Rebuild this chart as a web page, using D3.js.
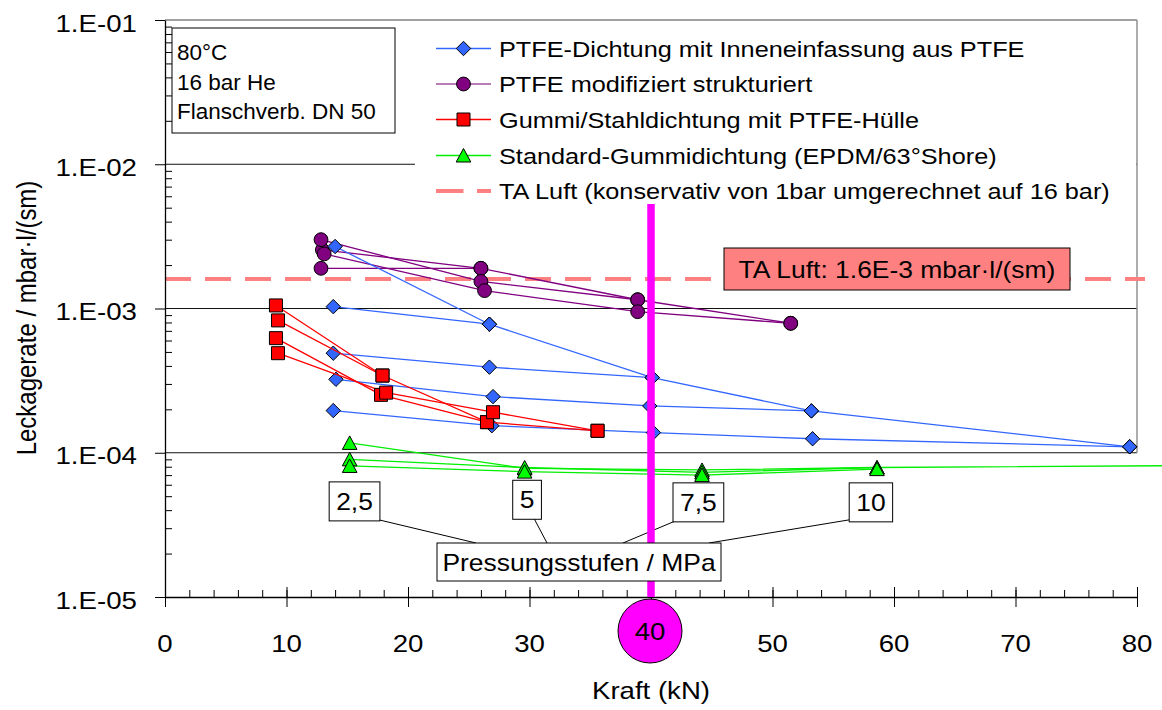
<!DOCTYPE html>
<html>
<head>
<meta charset="utf-8">
<script src="https://cdn.jsdelivr.net/npm/d3@7"></script>
<style>
  body { margin: 0; background: #fff; }
  svg { display: block; }
  text { font-family: "Liberation Sans", Arial, sans-serif; fill: #000; }
</style>
</head>
<body>
<svg id="chart" width="1162" height="710"></svg>
<script>
// ---- axis ticks ----
const xTickValues = [0, 10, 20, 30, 40, 50, 60, 70, 80];
const xMinorStep = 2;
const yTickValues = [1e-5, 1e-4, 1e-3, 1e-2, 1e-1];
const yTickLabels = ["1.E-05", "1.E-04", "1.E-03", "1.E-02", "1.E-01"];

// ---- measured series: one polyline per tested gasket, [Kraft kN, Leckagerate mbar·l/(sm)] ----
const ptfeInnenRuns = [
  [[14.0, 2.69e-3], [26.7, 7.78e-4]],
  [[13.85, 1.03e-3], [26.7, 7.78e-4], [40.1, 3.32e-4], [53.2, 1.95e-4], [79.4, 1.10e-4]],
  [[13.85, 4.90e-4], [26.7, 3.92e-4], [40.1, 3.32e-4]],
  [[14.07, 3.23e-4], [27.0, 2.45e-4], [39.9, 2.11e-4], [53.2, 1.95e-4]],
  [[13.85, 1.96e-4], [26.9, 1.54e-4], [40.2, 1.38e-4], [53.3, 1.25e-4], [79.4, 1.10e-4]]
];
const ptfeModRuns = [
  [[12.84, 1.90e-3], [26.0, 1.90e-3]],
  [[12.95, 2.55e-3], [26.0, 1.90e-3], [38.9, 1.15e-3], [51.5, 7.9e-4]],
  [[12.84, 3.00e-3], [26.0, 1.54e-3], [38.9, 1.15e-3]],
  [[13.1, 2.39e-3], [26.3, 1.33e-3], [38.9, 9.5e-4], [51.5, 7.9e-4]]
];
const gummiStahlRuns = [
  [[9.13, 1.05e-3], [17.9, 3.43e-4], [26.5, 1.63e-4], [35.6, 1.42e-4]],
  [[9.3, 8.27e-4], [17.9, 3.43e-4]],
  [[9.13, 6.23e-4], [17.78, 2.52e-4], [26.5, 1.63e-4]],
  [[9.3, 4.90e-4], [18.2, 2.61e-4], [27.0, 1.91e-4], [35.6, 1.42e-4]]
];
const epdmRuns = [
  [[15.2, 1.17e-4], [29.6, 7.8e-5], [44.2, 7.6e-5], [58.6, 7.9e-5]],
  [[15.2, 9.0e-5], [29.6, 7.9e-5], [44.2, 7.3e-5], [58.6, 7.9e-5], [100, 8.3e-5]],
  [[15.2, 8.1e-5], [29.6, 7.4e-5], [44.2, 7.0e-5], [58.6, 7.7e-5]]
];

// ---- reference values and annotations ----
const taLuftLimit = 1.6e-3;
const taLuftLabel = "TA Luft: 1.6E-3 mbar·l/(sm)";
const markedForce = 40;
const markedForceLabel = "40";
const conditionLines = ["80°C", "16 bar He", "Flanschverb. DN 50"];
const pressureLevels = ["2,5", "5", "7,5", "10"];
const pressureLabelPos = [[15.6, 4.6e-5], [29.8, 4.72e-5], [43.9, 4.53e-5], [58.1, 4.53e-5]];
const pressureTitle = "Pressungsstufen / MPa";
const xTitle = "Kraft (kN)";
const yTitle = "Leckagerate / mbar·l/(sm)";

const legendNames = [
  "PTFE-Dichtung mit Inneneinfassung aus PTFE",
  "PTFE modifiziert strukturiert",
  "Gummi/Stahldichtung mit PTFE-Hülle",
  "Standard-Gummidichtung (EPDM/63°Shore)",
  "TA Luft (konservativ von 1bar umgerechnet auf 16 bar)"
];

// ---- layout ----
const svg = d3.select("#chart");
const plot = { left: 165, right: 1137, top: 20, bottom: 597 };
const x = d3.scaleLinear().domain([0, 80]).range([plot.left, plot.right]);
const y = d3.scaleLog().domain([1e-5, 1e-1]).range([plot.bottom, plot.top]);
const SX = 1.15; // horizontal glyph stretch of the chart lettering

function stext(g, px, py, str, size, anchor, sx = SX) {
  return g.append("text")
    .attr("transform", `translate(${px},${py}) scale(${sx},1)`)
    .attr("text-anchor", anchor)
    .attr("font-size", size)
    .text(str);
}

// marker shapes
const markerPath = {
  diamond: "M0,-7.2L7.2,0L0,7.2L-7.2,0Z",
  circle: d3.symbol(d3.symbolCircle, 150)(),
  square: "M-6.5,-6.5H6.5V6.5H-6.5Z",
  triangle: "M0,-7L7.3,6.5H-7.3Z"
};

const series = [
  { name: legendNames[1], runs: ptfeModRuns, line: "#800080", legendLine: "#a050a0", fill: "#800080", marker: "circle" },
  { name: legendNames[0], runs: ptfeInnenRuns, line: "#3366ff", legendLine: "#3366ff", fill: "#3366ff", marker: "diamond" },
  { name: legendNames[2], runs: gummiStahlRuns, line: "#ff0000", legendLine: "#ff0000", fill: "#ff0000", marker: "square" },
  { name: legendNames[3], runs: epdmRuns, line: "#00ee00", legendLine: "#00ee00", fill: "#00ff00", marker: "triangle" }
];

// ---- grid & frame ----
const grid = svg.append("g");
[1e-2, 1e-3, 1e-4].forEach(v => {
  grid.append("line")
    .attr("x1", plot.left).attr("x2", plot.right)
    .attr("y1", y(v)).attr("y2", y(v))
    .attr("stroke", "#111").attr("stroke-width", 1.2);
});
grid.append("line")
  .attr("x1", plot.left).attr("x2", plot.right)
  .attr("y1", y(1e-1)).attr("y2", y(1e-1))
  .attr("stroke", "#808080").attr("stroke-width", 1.5);
grid.append("line")
  .attr("x1", plot.right).attr("x2", plot.right)
  .attr("y1", plot.top).attr("y2", y(1e-4))
  .attr("stroke", "#909090").attr("stroke-width", 1.5);

// ---- TA Luft limit line ----
svg.append("line")
  .attr("x1", plot.left).attr("x2", plot.right + 8)
  .attr("y1", y(taLuftLimit)).attr("y2", y(taLuftLimit))
  .attr("stroke", "#ff8080").attr("stroke-width", 4)
  .attr("stroke-dasharray", "26,14");

// ---- series ----
const lineGen = d3.line().x(d => x(d[0])).y(d => y(d[1]));
series.forEach(s => {
  const g = svg.append("g");
  g.selectAll("path.run").data(s.runs).join("path")
    .attr("class", "run")
    .attr("d", lineGen)
    .attr("fill", "none")
    .attr("stroke", s.line)
    .attr("stroke-width", 1.3);
  const pts = s.runs.flat().filter(d => d[0] <= 80);
  g.selectAll("path.mk").data(pts).join("path")
    .attr("class", "mk")
    .attr("d", markerPath[s.marker])
    .attr("transform", d => `translate(${x(d[0])},${y(d[1])})`)
    .attr("fill", s.fill)
    .attr("stroke", "#000")
    .attr("stroke-width", 1);
});

// ---- axes ----
const xMinor = d3.range(0, 80 + 0.001, xMinorStep);
const gx = svg.append("g").attr("transform", `translate(0,${plot.bottom})`);
gx.append("g").call(d3.axisBottom(x).tickValues(xMinor).tickSize(0).tickFormat(""))
  .call(a => a.selectAll(".tick line").attr("y2", -7).attr("stroke", "#000"))
  .call(a => a.select(".domain").remove());
gx.append("g").call(d3.axisBottom(x).tickValues(xTickValues).tickSize(10).tickSizeOuter(0).tickFormat(""))
  .call(a => a.selectAll(".tick line").attr("y1", -10).attr("stroke", "#000"))
  .call(a => a.select(".domain").attr("stroke", "#000").attr("stroke-width", 1.3));
xTickValues.forEach(v => {
  if (v === markedForce) return;
  stext(gx, x(v), 55, String(v), 24, "middle");
});

const yMinor = [];
for (let e = -5; e < -1; e++) for (let m = 2; m <= 9; m++) yMinor.push(m * Math.pow(10, e));
const gy = svg.append("g").attr("transform", `translate(${plot.left},0)`);
gy.append("g").call(d3.axisLeft(y).tickValues(yMinor).tickSize(0).tickFormat(""))
  .call(a => a.selectAll(".tick line").attr("x2", 7).attr("stroke", "#000"))
  .call(a => a.select(".domain").remove());
gy.append("g").call(d3.axisLeft(y).tickValues(yTickValues).tickSize(10).tickSizeOuter(0).tickFormat(""))
  .call(a => a.selectAll(".tick line").attr("stroke", "#000"))
  .call(a => a.select(".domain").attr("stroke", "#000").attr("stroke-width", 1.3));
yTickValues.forEach((v, i) => {
  stext(gy, -28, y(v) + 11.5, yTickLabels[i], 24.5, "end", 1.13);
});

// ---- axis titles ----
stext(svg, x(40), 699, xTitle, 24, "middle");
svg.append("text")
  .attr("transform", `translate(36,318) rotate(-90) scale(1,${SX})`)
  .attr("text-anchor", "middle")
  .attr("font-size", 24)
  .text(yTitle);

// ---- pressure level annotations (leaders first, boxes above the 40 kN marker) ----
const leaders = svg.append("g");
const titleBox = { x: 437, y: 543, w: 284, h: 38 };
const leaderEnds = [[476, 543], [547, 543], [623, 543], [709, 543]];
const levelBoxes = pressureLevels.map((lbl, i) => {
  const cx = x(pressureLabelPos[i][0]), cy = y(pressureLabelPos[i][1]);
  const t = stext(leaders, cx, cy + 8.5, lbl, 23, "middle");
  const w = t.node().getComputedTextLength() * SX + 14;
  t.remove();
  return { lbl, cx, cy, w, h: 39 };
});
levelBoxes.forEach((b, i) => {
  const fromX = i < 2 ? b.cx + b.w / 2 - (i === 0 ? 5 : 8) : b.cx - b.w / 2 + (i === 2 ? 5 : 0);
  leaders.append("line")
    .attr("x1", fromX).attr("y1", b.cy + b.h / 2 - 2)
    .attr("x2", leaderEnds[i][0]).attr("y2", leaderEnds[i][1])
    .attr("stroke", "#000").attr("stroke-width", 1);
});

// ---- marked force (40 kN) ----
svg.append("line")
  .attr("x1", x(markedForce)).attr("x2", x(markedForce))
  .attr("y1", plot.top + 150).attr("y2", plot.bottom)
  .attr("stroke", "#ff00ff").attr("stroke-width", 7.5);

const ann = svg.append("g");
levelBoxes.forEach(b => {
  ann.append("rect")
    .attr("x", b.cx - b.w / 2).attr("y", b.cy - b.h / 2)
    .attr("width", b.w).attr("height", b.h)
    .attr("fill", "#fff").attr("stroke", "#000").attr("stroke-width", 1);
  stext(ann, b.cx, b.cy + 8.5, b.lbl, 23, "middle");
});
ann.append("rect")
  .attr("x", titleBox.x).attr("y", titleBox.y)
  .attr("width", titleBox.w).attr("height", titleBox.h)
  .attr("fill", "#fff").attr("stroke", "#000").attr("stroke-width", 1);
stext(ann, titleBox.x + titleBox.w / 2, titleBox.y + 28, pressureTitle, 23, "middle");

svg.append("ellipse")
  .attr("cx", x(markedForce) - 1).attr("cy", 631)
  .attr("rx", 32).attr("ry", 32)
  .attr("fill", "#ff00ff").attr("stroke", "#000").attr("stroke-width", 1);
stext(svg, x(markedForce) - 1, 640, markedForceLabel, 24, "middle");

// ---- TA Luft label ----
const taBox = { x: 724, y: 248, w: 346, h: 42 };
svg.append("rect")
  .attr("x", taBox.x).attr("y", taBox.y).attr("width", taBox.w).attr("height", taBox.h)
  .attr("fill", "#ff8080").attr("stroke", "#000").attr("stroke-width", 1);
stext(svg, taBox.x + taBox.w / 2, taBox.y + 30, taLuftLabel, 23, "middle");

// ---- legend ----
const lg = svg.append("g");
lg.append("rect")
  .attr("x", 415).attr("y", plot.top + 1)
  .attr("width", plot.right - 415 - 1).attr("height", 183)
  .attr("fill", "#fff");
const rowY = [48.5, 84, 119.5, 155.5, 191];
series.slice().sort((a, b) => legendNames.indexOf(a.name) - legendNames.indexOf(b.name)).forEach((s, i) => {
  const ry = rowY[i];
  lg.append("line").attr("x1", 436).attr("x2", 491).attr("y1", ry).attr("y2", ry)
    .attr("stroke", s.legendLine).attr("stroke-width", 1.5);
  lg.append("path").attr("d", markerPath[s.marker])
    .attr("transform", `translate(463.5,${ry})`)
    .attr("fill", s.fill).attr("stroke", "#000").attr("stroke-width", 1);
  stext(lg, 499, ry + 8, s.name, 22, "start");
});
lg.append("line").attr("x1", 436).attr("x2", 491).attr("y1", rowY[4]).attr("y2", rowY[4])
  .attr("stroke", "#ff8080").attr("stroke-width", 4).attr("stroke-dasharray", "27.5,13.5");
stext(lg, 499, rowY[4] + 8, legendNames[4], 22, "start");

// ---- test conditions box ----
const cb = svg.append("g");
cb.append("rect").attr("x", 172).attr("y", 28).attr("width", 223).attr("height", 105)
  .attr("fill", "#fff").attr("stroke", "#000").attr("stroke-width", 1);
conditionLines.forEach((t, i) => stext(cb, 177, 60 + i * 29.5, t, 22.5, "start", 1.0));
</script>
</body>
</html>
